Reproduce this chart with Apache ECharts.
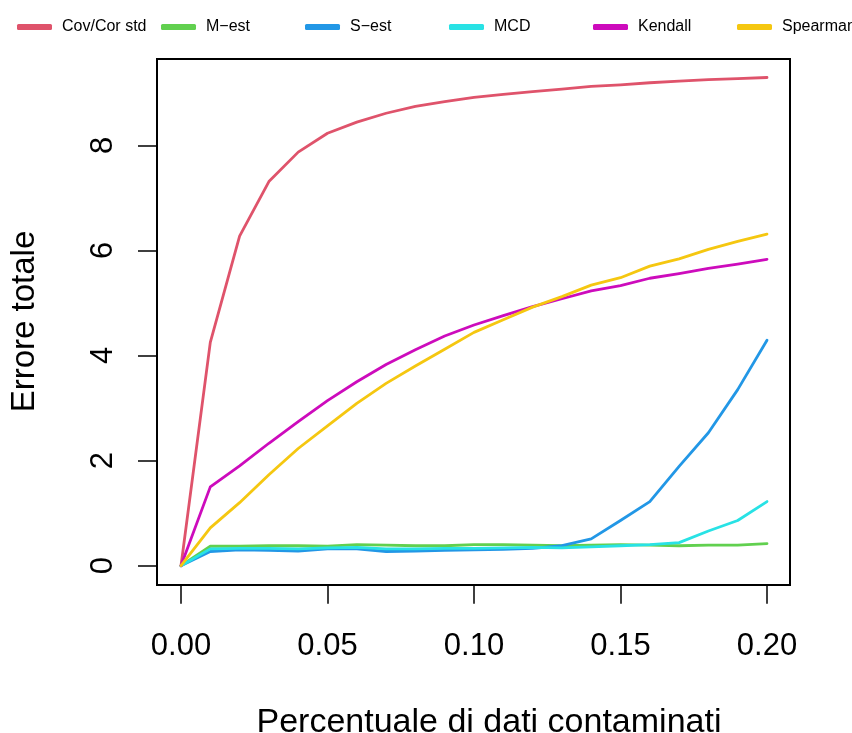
<!DOCTYPE html>
<html>
<head>
<meta charset="utf-8">
<script src="https://cdn.jsdelivr.net/npm/echarts@6/dist/echarts.min.js"></script>
<style>
html,body{margin:0;padding:0;background:#fff;}
#chart{width:852px;height:733px;}
</style>
</head>
<body>
<div id="chart"></div>
<script>
var xValues = [0.00, 0.01, 0.02, 0.03, 0.04, 0.05, 0.06, 0.07, 0.08, 0.09, 0.10, 0.11, 0.12, 0.13, 0.14, 0.15, 0.16, 0.17, 0.18, 0.19, 0.20];
var covStd   = [0, 4.25, 6.27, 7.31, 7.87, 8.23, 8.44, 8.61, 8.74, 8.83, 8.91, 8.97, 9.02, 9.07, 9.12, 9.15, 9.19, 9.22, 9.25, 9.27, 9.29];
var mEst     = [0, 0.37, 0.37, 0.38, 0.38, 0.37, 0.40, 0.39, 0.38, 0.38, 0.40, 0.40, 0.39, 0.38, 0.39, 0.40, 0.39, 0.38, 0.39, 0.39, 0.42];
var sEst     = [0, 0.27, 0.30, 0.29, 0.28, 0.32, 0.32, 0.27, 0.28, 0.29, 0.30, 0.31, 0.33, 0.38, 0.51, 0.86, 1.22, 1.89, 2.53, 3.35, 4.29];
var mcd      = [0, 0.32, 0.33, 0.33, 0.32, 0.34, 0.35, 0.32, 0.32, 0.33, 0.33, 0.34, 0.35, 0.34, 0.36, 0.38, 0.40, 0.44, 0.66, 0.86, 1.22];
var kendall  = [0, 1.50, 1.90, 2.33, 2.74, 3.14, 3.50, 3.83, 4.11, 4.37, 4.58, 4.76, 4.93, 5.08, 5.23, 5.33, 5.47, 5.56, 5.66, 5.74, 5.83];
var spearman = [0, 0.72, 1.20, 1.73, 2.23, 2.66, 3.09, 3.47, 3.80, 4.12, 4.44, 4.68, 4.92, 5.12, 5.34, 5.48, 5.70, 5.84, 6.02, 6.17, 6.31];

var seriesNames = ['Cov/Cor std', 'M\u2212est', 'S\u2212est', 'MCD', 'Kendall', 'Spearman'];
var seriesColors = ['#DF536B', '#61D04F', '#2297E6', '#28E2E5', '#CD0BBC', '#F5C710'];
var seriesValues = [covStd, mEst, sEst, mcd, kendall, spearman];

var xTickLabels = ['0.00', '0.05', '0.10', '0.15', '0.20'];
var yTickLabels = ['0', '2', '4', '6', '8'];
var xTitle = 'Percentuale di dati contaminati';
var yTitle = 'Errore totale';

var FONT = '"Liberation Sans", Arial, Helvetica, sans-serif';

function pairs(vals) {
  return vals.map(function (v, i) { return [xValues[i], v]; });
}

var chart = echarts.init(document.getElementById('chart'), null, {renderer: 'canvas'});

var series = seriesNames.map(function (name, i) {
  return {
    name: name,
    type: 'line',
    data: pairs(seriesValues[i]),
    showSymbol: false,
    symbol: 'none',
    clip: false,
    color: seriesColors[i],
    lineStyle: {width: 2.8, color: seriesColors[i], cap: 'round', join: 'round'},
    animation: false
  };
});

var legends = seriesNames.map(function (name, i) {
  return {
    show: true,
    left: 12 + 144 * i,
    top: 14,
    orient: 'horizontal',
    icon: 'roundRect',
    itemWidth: 35,
    itemHeight: 6,
    selectedMode: false,
    textStyle: {fontFamily: FONT, fontSize: 16, color: '#000', padding: [0, 0, 0, 5]},
    data: [name]
  };
});

var option = {
  backgroundColor: '#ffffff',
  animation: false,
  textStyle: {fontFamily: FONT},
  legend: legends,
  grid: {
    left: 181,
    top: 145.3,
    width: 586,
    height: 420.4,
    containLabel: false,
    outerBoundsMode: 'none'
  },
  xAxis: {
    type: 'value',
    min: 0,
    max: 0.2,
    interval: 0.05,
    offset: 19,
    splitLine: {show: false},
    axisLine: {show: true, onZero: false, lineStyle: {color: '#000', width: 1.5}},
    axisTick: {show: true, length: 19, inside: false, lineStyle: {color: '#000', width: 1.5}},
    axisLabel: {
      fontFamily: FONT, fontSize: 31, color: '#000', margin: 46,
      formatter: function (v) {
        var idx = Math.round(v / 0.05);
        return xTickLabels[idx] !== undefined ? xTickLabels[idx] : '';
      }
    },
    name: xTitle,
    nameLocation: 'middle',
    nameGap: 121,
    nameTextStyle: {fontFamily: FONT, fontSize: 34, color: '#000', padding: [0, 0, 0, 30]}
  },
  yAxis: {
    type: 'value',
    min: 0,
    max: 8,
    interval: 2,
    offset: 24,
    splitLine: {show: false},
    axisLine: {show: true, onZero: false, lineStyle: {color: '#000', width: 1.5}},
    axisTick: {show: true, length: 19, inside: false, lineStyle: {color: '#000', width: 1.5}},
    axisLabel: {
      fontFamily: FONT, fontSize: 31, color: '#000', margin: 38, rotate: 90,
      formatter: function (v) {
        var idx = Math.round(v / 2);
        return yTickLabels[idx] !== undefined ? yTickLabels[idx] : '';
      }
    },
    name: yTitle,
    nameLocation: 'middle',
    nameGap: 116,
    nameTextStyle: {fontFamily: FONT, fontSize: 33, color: '#000', padding: [0, 0, 0, 68]}
  },
  graphic: [{
    type: 'rect',
    silent: true,
    shape: {x: 157, y: 59, width: 633, height: 526},
    style: {fill: 'none', stroke: '#000', lineWidth: 2},
    z: 100
  }],
  series: series
};

chart.setOption(option);
</script>
</body>
</html>
